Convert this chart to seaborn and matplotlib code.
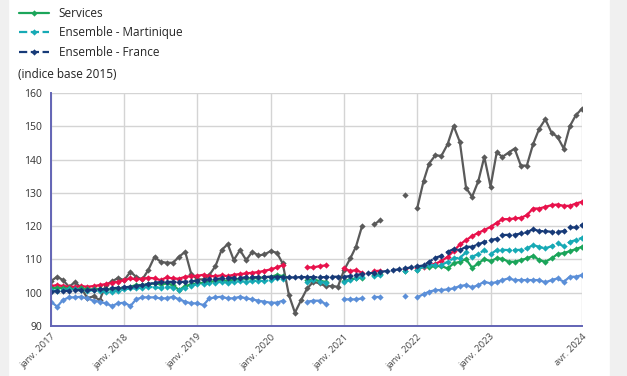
import numpy as np
import pandas as pd
import seaborn as sns
import matplotlib.pyplot as plt

nan = np.nan
months = pd.date_range("2017-01-01", periods=88, freq="MS")

energie = [103.5, 104.8, 103.8, 101.8, 103.2, 101.4, 98.4, 98.9, 97.8, 102.3, 103.4, 104.4,
           103.8, 106.3, 104.8, 104.0, 106.8, 110.8, 109.3, 109.0, 109.0, 110.8, 112.3, 105.6,
           104.0, 104.0, 105.3, 108.0, 112.8, 114.6, 109.8, 112.8, 109.8, 112.3, 111.2, 111.5,
           112.5, 112.0, 108.8, 99.3, 94.0, 97.8, 101.3, 103.3, 102.8, 102.0, 102.0, 101.8,
           106.8, 110.3, 113.8, 120.1, nan, 120.6, 121.8, nan, nan, nan, 129.4, nan,
           125.5, 133.5, 138.8, 141.3, 141.1, 144.6, 150.1, 145.3, 131.5, 128.8, 133.5, 140.8,
           131.9, 142.2, 140.8, 142.1, 143.3, 138.2, 138.2, 144.6, 149.3, 152.1, 148.1, 146.8,
           143.3, 150.1, 153.3, 155.3]
alimentation = [102.0, 102.3, 102.0, 101.8, 101.8, 102.0, 101.8, 102.0, 102.3, 102.6, 103.0, 103.3,
                103.8, 104.3, 104.0, 104.2, 104.5, 104.3, 103.8, 104.6, 104.3, 104.2, 104.8, 105.0,
                105.1, 105.4, 105.0, 105.0, 105.2, 105.0, 105.4, 105.6, 105.8, 106.0, 106.2, 106.6,
                107.0, 107.6, 108.3, nan, nan, nan, 107.6, 107.6, 108.0, 108.2, nan, nan,
                107.3, 106.5, 106.8, 106.0, nan, 106.5, 106.6, nan, nan, nan, 107.2, nan,
                107.3, 107.8, 108.3, 108.7, 109.5, 110.8, 112.5, 114.5, 115.8, 117.0, 118.0, 118.8,
                119.8, 121.0, 122.1, 122.1, 122.3, 122.5, 123.3, 125.3, 125.3, 125.8, 126.3, 126.5,
                126.1, 126.1, 126.8, 127.3]
manufactures = [97.3, 95.8, 97.8, 98.6, 98.6, 98.8, 98.3, 97.6, 97.3, 96.8, 96.0, 96.8,
                97.0, 96.0, 98.0, 98.6, 98.6, 98.6, 98.3, 98.3, 98.8, 98.0, 97.3, 96.8,
                96.8, 96.3, 98.3, 98.6, 98.8, 98.3, 98.3, 98.8, 98.3, 98.0, 97.6, 97.3,
                97.0, 97.0, 97.6, nan, nan, nan, 97.3, 97.6, 97.6, 96.6, nan, nan,
                98.0, 98.0, 98.0, 98.3, nan, 98.8, 98.8, nan, nan, nan, 99.0, nan,
                98.6, 99.6, 100.3, 100.8, 100.8, 101.0, 101.3, 102.0, 102.3, 101.6, 102.3, 103.3,
                102.8, 103.2, 103.8, 104.3, 103.8, 103.8, 103.8, 103.8, 103.8, 103.1, 103.8, 104.3,
                103.3, 104.8, 104.8, 105.3]
services = [101.3, 101.5, 101.3, 101.3, 101.0, 101.3, 101.0, 101.0, 101.2, 101.0, 101.0, 101.3,
            101.5, 101.8, 102.3, 102.3, 102.5, 102.8, 102.5, 102.8, 102.3, 100.8, 102.0, 102.5,
            102.8, 103.0, 103.3, 103.5, 103.8, 103.6, 104.0, 104.2, 104.3, 104.3, 104.5, 104.6,
            104.8, 105.3, 105.0, nan, nan, nan, 103.8, 104.0, 103.5, 103.3, nan, nan,
            103.5, 104.0, 104.3, 104.5, nan, 105.3, 105.5, nan, nan, nan, 106.5, nan,
            106.8, 107.9, 107.7, 108.0, 108.0, 107.3, 108.8, 109.3, 110.1, 107.5, 108.8, 110.1,
            109.5, 110.3, 110.2, 109.3, 109.3, 109.8, 110.3, 111.1, 109.8, 109.3, 110.3, 111.6,
            111.9, 112.5, 113.1, 113.8]
ensemble_mq = [100.8, 100.5, 100.8, 101.0, 101.0, 100.8, 100.5, 100.8, 100.5, 100.3, 100.3, 100.6,
               101.0, 101.3, 101.3, 101.5, 101.8, 101.6, 101.5, 101.8, 101.5, 100.8, 101.5, 102.0,
               102.6, 102.6, 102.8, 103.0, 103.3, 103.0, 103.3, 103.5, 103.3, 103.5, 103.6, 103.5,
               103.8, 104.3, 104.0, nan, nan, nan, 103.1, 103.8, 103.3, 103.0, nan, nan,
               103.3, 103.8, 104.3, 104.8, nan, 105.0, 105.3, nan, nan, nan, 106.6, nan,
               106.8, 107.9, 108.3, 108.3, 108.3, 109.3, 110.3, 110.5, 112.1, 110.8, 111.6, 112.8,
               111.6, 112.8, 112.9, 112.8, 112.8, 112.9, 113.3, 114.3, 113.8, 113.3, 114.0, 114.8,
               114.0, 115.3, 115.8, 116.5]
ensemble_fr = [100.3, 100.5, 100.5, 100.6, 100.7, 100.8, 100.8, 100.9, 101.0, 101.1, 101.3, 101.5,
               101.6, 101.8, 102.0, 102.3, 102.6, 103.0, 103.2, 103.2, 103.3, 103.2, 103.3, 103.4,
               103.6, 103.8, 104.0, 104.1, 104.3, 104.4, 104.5, 104.5, 104.6, 104.6, 104.7, 104.7,
               104.8, 104.8, 104.7, 104.6, 104.6, 104.7, 104.7, 104.7, 104.6, 104.7, 104.8, 104.8,
               104.8, 105.0, 105.3, 105.6, 105.8, 106.0, 106.3, 106.5, 106.8, 107.0, 107.3, 107.6,
               107.9, 108.2, 109.3, 110.5, 111.1, 112.3, 113.1, 112.8, 113.8, 113.8, 114.5, 115.3,
               115.8, 116.2, 117.3, 117.4, 117.4, 117.8, 118.1, 119.1, 118.5, 118.5, 118.3, 118.3,
               118.5, 119.6, 119.6, 120.4]

series = [
    ("Énergie", energie, "#5a5a5a", "-", False),
    ("Produits manufacturés", manufactures, "#5b8fd8", "-", False),
    ("Alimentation", alimentation, "#e8124c", "-", False),
    ("Services", services, "#1ba55a", "-", True),
    ("Ensemble - Martinique", ensemble_mq, "#17aab5", "--", True),
    ("Ensemble - France", ensemble_fr, "#173a78", "--", True),
]

sns.set_style("white")
plt.rcParams["font.family"] = ["Open Sans", "DejaVu Sans"]

fig = plt.figure(figsize=(6.27, 3.76), dpi=100)
fig.patches.append(plt.Rectangle((0, 0), 8 / 627, 1, transform=fig.transFigure,
                                 color="#f0f0f0", zorder=0))
fig.patches.append(plt.Rectangle((610 / 627, 0), 17 / 627, 1, transform=fig.transFigure,
                                 color="#f0f0f0", zorder=0))
ax = fig.add_axes([51 / 627, 1 - 326 / 376, 531 / 627, 233 / 376])

handles = []
for name, vals, color, ls, show in series:
    df = pd.DataFrame({"mois": months, "indice": vals})
    # missing months break the line: one unit per contiguous run
    df["segment"] = df["indice"].isna().cumsum()
    df = df.dropna()
    sns.lineplot(data=df, x="mois", y="indice", units="segment", ax=ax, color=color,
                 linestyle=ls, linewidth=1.6, marker="D", markersize=3.2,
                 markeredgewidth=0, estimator=None)
    if show:
        handles.append(ax.lines[-1])

ax.set_ylim(90, 160)
ax.set_xlim(months[0], months[-1])
ax.set_yticks(range(90, 161, 10))
xt = list(pd.date_range("2017-01-01", "2023-01-01", freq="YS")) + [months[-1]]
ax.set_xticks(xt)
ax.set_xticklabels([f"janv. {d.year}" for d in xt[:-1]] + ["avr. 2024"],
                   rotation=45, ha="right", rotation_mode="anchor", fontsize=6.8, color="#444444")
ax.tick_params(axis="y", labelsize=7.5, colors="#333333", length=3, color="#999999")
ax.tick_params(axis="x", length=3, pad=1.5, color="#cccccc")
ax.grid(True, color="#d4d4d4", linewidth=1)
ax.set_xlabel("")
ax.set_ylabel("")
for s in ["top", "right"]:
    ax.spines[s].set_visible(False)
for s in ["left", "bottom"]:
    ax.spines[s].set_color("#6264b5")
    ax.spines[s].set_linewidth(1.4)

# legend (top part is cut off in the source)
fig.legend(handles=handles, labels=["Services", "Ensemble - Martinique", "Ensemble - France"],
           loc="upper left", bbox_to_anchor=(14 / 627, 1 - 2 / 376), frameon=False,
           fontsize=8.5, handlelength=2.6, labelspacing=0.55, borderaxespad=0)
fig.text(18 / 627, 1 - 75 / 376, "(indice base 2015)", fontsize=8.5, va="center", color="#222222")

fig.savefig("out.png", dpi=100)
